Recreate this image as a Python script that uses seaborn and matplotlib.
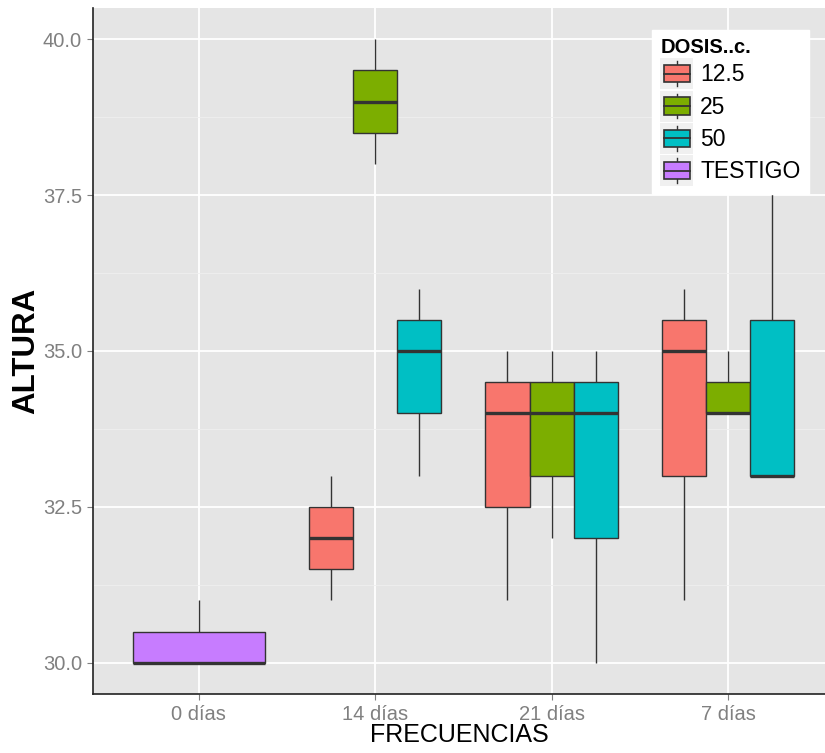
import numpy as np
import pandas as pd
import matplotlib
matplotlib.use("Agg")
import matplotlib.pyplot as plt
import seaborn as sns
from matplotlib.patches import Rectangle
from matplotlib.lines import Line2D
from matplotlib.legend_handler import HandlerBase

# ---------------------------------
# Data
# ---------------------------------

frecuencias = ["0 días", "14 días", "21 días", "7 días"]
dosis_levels = ["12.5", "25", "50", "TESTIGO"]
colores = ["#F8766D", "#7CAE00", "#00BFC4", "#C77CFF"]

testigo_0 = [30, 30, 31]

dosis_125_14 = [31, 32, 33]
dosis_25_14 = [38, 39, 40]
dosis_50_14 = [33, 35, 36]

dosis_125_21 = [31, 34, 35]
dosis_25_21 = [32, 34, 35]
dosis_50_21 = [30, 34, 35]

dosis_125_7 = [31, 35, 36]
dosis_25_7 = [34, 34, 35]
dosis_50_7 = [33, 33, 38]

grupos = [
    ("0 días", "TESTIGO", testigo_0),
    ("14 días", "12.5", dosis_125_14),
    ("14 días", "25", dosis_25_14),
    ("14 días", "50", dosis_50_14),
    ("21 días", "12.5", dosis_125_21),
    ("21 días", "25", dosis_25_21),
    ("21 días", "50", dosis_50_21),
    ("7 días", "12.5", dosis_125_7),
    ("7 días", "25", dosis_25_7),
    ("7 días", "50", dosis_50_7),
]

rows = []
for frec, dosis, valores in grupos:
    for v in valores:
        rows.append({"FRECUENCIAS": frec, "DOSIS": dosis, "ALTURA": v})
df = pd.DataFrame(rows)
df["pos"] = df["FRECUENCIAS"].map({f: i for i, f in enumerate(frecuencias)})

palette = dict(zip(dosis_levels, colores))

# ---------------------------------
# Figure
# ---------------------------------

plt.rcParams["font.family"] = ["Liberation Sans", "DejaVu Sans"]

fig = plt.figure(figsize=(8.25, 7.53), dpi=100)
ax = fig.add_axes([0.1127, 0.0784, 0.8873, 0.911])
ax.set_facecolor("#E5E5E5")
ax.set_axisbelow(True)

# one call per frequency so the dodge only uses the doses present
for frec in frecuencias:
    sub = df[df["FRECUENCIAS"] == frec]
    present = [d for d in dosis_levels if d in sub["DOSIS"].values]
    sns.boxplot(
        data=sub,
        x="pos",
        y="ALTURA",
        hue="DOSIS",
        hue_order=present,
        palette=palette,
        saturation=1,
        native_scale=True,
        width=0.75,
        gap=0,
        linecolor="#333333",
        linewidth=1,
        whis=1.5,
        showcaps=False,
        medianprops={"linewidth": 2.4},
        legend=False,
        ax=ax,
    )

# ---------------------------------
# Axes styling
# ---------------------------------

ax.set_xlim(-0.6, 3.55)
ax.set_ylim(29.5, 40.5)
ax.set_xticks(range(len(frecuencias)))
ax.set_xticklabels(frecuencias)
ax.set_yticks([30.0, 32.5, 35.0, 37.5, 40.0])
ax.set_yticklabels(["30.0", "32.5", "35.0", "37.5", "40.0"])
ax.set_yticks([31.25, 33.75, 36.25, 38.75], minor=True)

ax.grid(which="major", color="white", linewidth=1.3)
ax.grid(which="minor", axis="y", color="#EFEFEF", linewidth=0.6)
ax.tick_params(which="major", length=4, color="#7F7F7F", labelsize=14.5,
               labelcolor="#808080", pad=4)
ax.tick_params(which="minor", length=0)

for side in ["top", "right"]:
    ax.spines[side].set_visible(False)
for side in ["left", "bottom"]:
    ax.spines[side].set_color("#222222")
    ax.spines[side].set_linewidth(1.2)

ax.set_xlabel("FRECUENCIAS", fontsize=18, color="black", labelpad=-1)
ax.set_ylabel("ALTURA", fontsize=22.5, fontweight="bold", color="black",
              labelpad=1)

# ---------------------------------
# Legend with boxplot-style keys
# ---------------------------------

class BoxKey(HandlerBase):
    def create_artists(self, legend, orig_handle, xdescent, ydescent,
                       width, height, fontsize, trans):
        x0, y0 = -xdescent, -ydescent
        bg = Rectangle((x0, y0), width, height, facecolor="#F0F0F0",
                       edgecolor="none", transform=trans)
        cx = x0 + width / 2
        wl = Line2D([cx, cx], [y0 + height * 0.1, y0 + height * 0.9],
                    color="#333333", linewidth=1, transform=trans)
        box = Rectangle((x0 + width * 0.1, y0 + height * 0.22),
                        width * 0.8, height * 0.56,
                        facecolor=orig_handle.get_facecolor(),
                        edgecolor="#333333", linewidth=1.2, transform=trans)
        med = Line2D([x0 + width * 0.1, x0 + width * 0.9],
                     [y0 + height * 0.5, y0 + height * 0.5],
                     color="#333333", linewidth=1.3, transform=trans)
        return [bg, wl, box, med]

handles = [Rectangle((0, 0), 1, 1, facecolor=c) for c in colores]
leg = ax.legend(
    handles,
    dosis_levels,
    title="DOSIS..c.",
    handler_map={Rectangle: BoxKey()},
    loc="upper left",
    bbox_to_anchor=(0.764, 0.968),
    frameon=True,
    fancybox=False,
    framealpha=1,
    edgecolor="white",
    facecolor="white",
    fontsize=16.5,
    handlelength=1.45,
    handleheight=1.7,
    handletextpad=0.3,
    labelspacing=0.06,
    borderpad=0.35,
    borderaxespad=0,
)
leg.get_title().set_fontweight("bold")
leg.get_title().set_fontsize(14.5)
leg._legend_box.align = "left"

fig.savefig("out.png", dpi=100)
